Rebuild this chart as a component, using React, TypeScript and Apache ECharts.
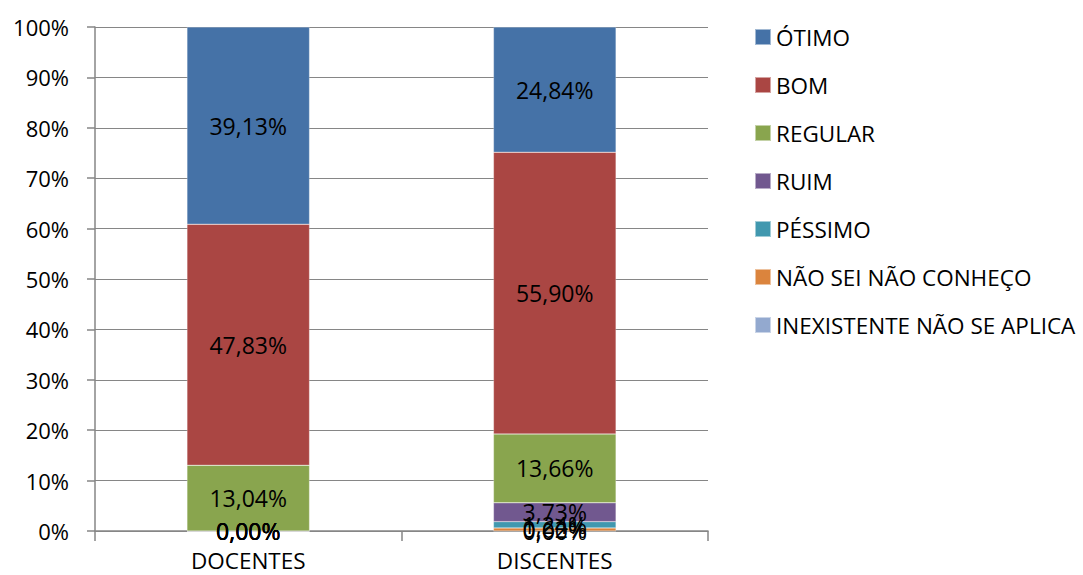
import React, { useEffect, useRef } from "react";
import * as echarts from "echarts";

const categories = ["DOCENTES", "DISCENTES"];
const seriesNames = [
  "ÓTIMO",
  "BOM",
  "REGULAR",
  "RUIM",
  "PÉSSIMO",
  "NÃO SEI NÃO CONHEÇO",
  "INEXISTENTE NÃO SE APLICA",
];
const otimo = [39.13, 24.84];
const bom = [47.83, 55.9];
const regular = [13.04, 13.66];
const ruim = [0, 3.73];
const pessimo = [0, 1.24];
const naoSei = [0, 0.62];
const inexistente = [0, 0];
const yTicks = [0, 10, 20, 30, 40, 50, 60, 70, 80, 90, 100];

const colors = ["#4572A7", "#AA4643", "#89A54E", "#71588F", "#4198AF", "#DB843D", "#93A9CF"];

export default function App() {
  const ref = useRef<HTMLDivElement>(null);
  useEffect(() => {
    if (!ref.current) return;
    const chart = echarts.init(ref.current, undefined, { renderer: "svg" });
    const dataSets = [otimo, bom, regular, ruim, pessimo, naoSei, inexistente];
    // stack order: bottom first
    const order = [6, 5, 4, 3, 2, 1, 0];
    const font = "'Open Sans', 'Noto Sans', sans-serif";
    chart.setOption({
      animation: false,
      color: colors,
      grid: { left: 95, right: 375, top: 27, bottom: 44, containLabel: false },
      legend: {
        orient: "vertical",
        left: 749,
        top: 20,
        itemWidth: 16,
        itemHeight: 16,
        itemGap: 24,
        icon: "rect",
        data: seriesNames,
        textStyle: { fontSize: 22.5, color: "#000", fontFamily: font, lineHeight: 24 },
      },
      xAxis: {
        type: "category",
        data: categories,
        axisLine: { lineStyle: { color: "#868686", width: 1.5 } },
        axisTick: { show: true, length: 10, lineStyle: { color: "#868686", width: 1.5 } },
        axisLabel: { fontSize: 22.5, color: "#000", fontFamily: font, margin: 18 },
      },
      yAxis: {
        type: "value",
        min: yTicks[0],
        max: yTicks[yTicks.length - 1],
        interval: 10,
        axisLine: { show: true, lineStyle: { color: "#868686", width: 1.5 } },
        axisTick: { show: true, length: 8, lineStyle: { color: "#868686", width: 1.5 } },
        splitLine: { lineStyle: { color: "#868686", width: 1 } },
        axisLabel: {
          fontSize: 22,
          color: "#000",
          fontFamily: font,
          margin: 26,
          formatter: (v: number) => `${v}%`,
        },
      },
      series: order.map((i) => ({
        name: seriesNames[i],
        type: "bar",
        stack: "total",
        barWidth: "40%",
        itemStyle: { color: colors[i], borderColor: "rgba(255,255,255,0.5)", borderWidth: 0.5 },
        label: {
          show: true,
          position: "inside",
          fontSize: 23,
          color: "#000",
          fontFamily: font,
          formatter: (p: any) => `${Number(p.value).toFixed(2).replace(".", ",")}%`,
        },
        data: dataSets[i],
      })),
    });
    return () => chart.dispose();
  }, []);
  return (
    <div
      ref={ref}
      style={{ position: "fixed", left: 0, top: 0, width: 1083, height: 575, background: "#fff" }}
    />
  );
}
